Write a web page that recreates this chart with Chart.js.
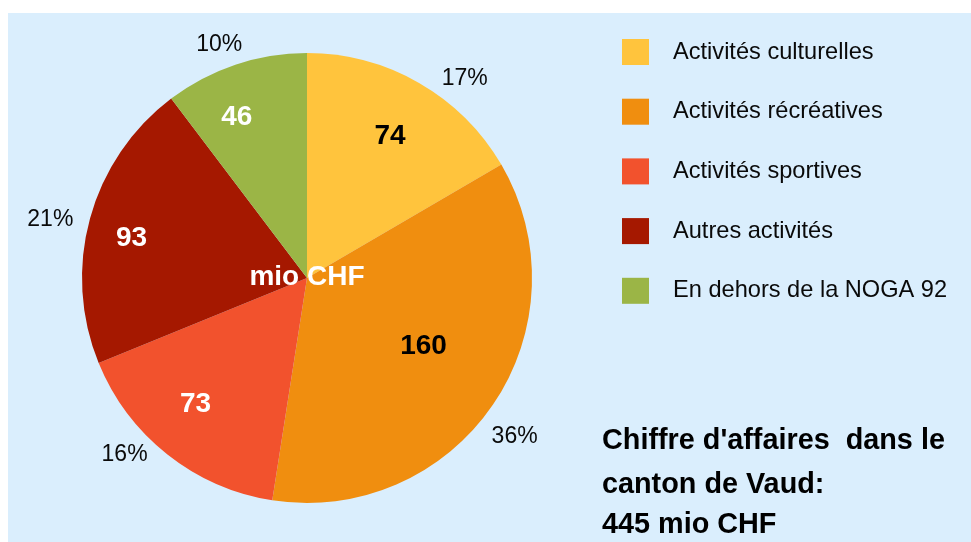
<!DOCTYPE html>
<html>
<head>
<meta charset="utf-8">
<script src="https://cdn.jsdelivr.net/npm/chart.js@4/dist/chart.umd.min.js"></script>
<style>
  html, body { margin: 0; padding: 0; background: #ffffff; }
  #wrap { position: relative; width: 971px; height: 542px; }
</style>
</head>
<body>
<div id="wrap"><canvas id="chart" width="971" height="542"></canvas></div>
<script>
// chart data
const categories = ['Activités culturelles', 'Activités récréatives', 'Activités sportives', 'Autres activités', 'En dehors de la NOGA 92'];
const revenue = [74, 160, 73, 93, 46];
const sliceColors = ['#FFC43D', '#F08E0F', '#F2522D', '#A51800', '#9BB546'];
const valueTextColors = ['#000000', '#000000', '#ffffff', '#ffffff', '#ffffff'];
const titleLines = ["Chiffre d'affaires  dans le", 'canton de Vaud:', '445 mio CHF'];
const centerText = 'mio CHF';

// label placement tweaks (fraction of radius, angle nudge in degrees)
const valueRadius = [0.73, 0.6, 0.75, 0.8, 0.78];
const valueNudge = [0.5, -4, 3, -2.5, -5];
const pctRadius = [1.13, 1.16, 1.13, 1.17, 1.11];
const pctNudge = [8.5, 3, 7.5, -2.5, -2];

const FONT = '"Liberation Sans", Arial, sans-serif';

const backgroundPlugin = {
  id: 'panelBackground',
  beforeDraw(chart) {
    const ctx = chart.ctx;
    ctx.save();
    ctx.fillStyle = '#ffffff';
    ctx.fillRect(0, 0, chart.width, chart.height);
    ctx.fillStyle = '#DAEEFD';
    ctx.fillRect(8, 13, chart.width - 8, chart.height - 13);
    ctx.restore();
  }
};

const labelPlugin = {
  id: 'sliceLabels',
  afterDatasetsDraw(chart) {
    const ctx = chart.ctx;
    const arcs = chart.getDatasetMeta(0).data;
    const data = chart.data.datasets[0].data;
    const total = data.reduce((a, b) => a + b, 0);
    ctx.save();
    ctx.textAlign = 'center';
    ctx.textBaseline = 'middle';
    arcs.forEach((arc, i) => {
      const p = arc.getProps(['x', 'y', 'startAngle', 'endAngle', 'outerRadius']);
      const mid = (p.startAngle + p.endAngle) / 2;
      // value inside the slice
      let a = mid + valueNudge[i] * Math.PI / 180;
      let r = p.outerRadius * valueRadius[i];
      ctx.font = 'bold 28px ' + FONT;
      ctx.fillStyle = valueTextColors[i];
      ctx.fillText(String(data[i]), p.x + Math.cos(a) * r, p.y + Math.sin(a) * r);
      // percentage outside
      a = mid + pctNudge[i] * Math.PI / 180;
      r = p.outerRadius * pctRadius[i];
      ctx.font = '23px ' + FONT;
      ctx.fillStyle = '#0a0a0a';
      ctx.fillText(Math.round(data[i] / total * 100) + '%', p.x + Math.cos(a) * r, p.y + Math.sin(a) * r);
    });
    // centre caption
    const c = arcs[0];
    ctx.font = 'bold 28px ' + FONT;
    ctx.fillStyle = '#ffffff';
    ctx.fillText(centerText, c.x, c.y - 1);
    ctx.restore();
  }
};

const legendPlugin = {
  id: 'sideLegend',
  afterDraw(chart) {
    const ctx = chart.ctx;
    ctx.save();
    ctx.textBaseline = 'middle';
    ctx.textAlign = 'left';
    ctx.font = '23.6px ' + FONT;
    chart.data.labels.forEach((label, i) => {
      const cy = 52 + i * 59.7;
      ctx.fillStyle = chart.data.datasets[0].backgroundColor[i];
      ctx.fillRect(622, cy - 13, 27, 26);
      ctx.fillStyle = '#0a0a0a';
      ctx.fillText(label, 673, cy);
    });
    // title block
    ctx.textBaseline = 'alphabetic';
    ctx.font = 'bold 28.8px ' + FONT;
    ctx.fillStyle = '#000000';
    const baselines = [449, 493, 533];
    titleLines.forEach((line, i) => ctx.fillText(line, 602, baselines[i]));
    ctx.restore();
  }
};

new Chart(document.getElementById('chart'), {
  type: 'pie',
  data: {
    labels: categories,
    datasets: [{
      data: revenue,
      backgroundColor: sliceColors,
      borderWidth: 0
    }]
  },
  options: {
    responsive: false,
    animation: false,
    layout: { padding: { left: 82, top: 53, right: 439, bottom: 39 } },
    plugins: {
      legend: { display: false },
      tooltip: { enabled: false },
      title: { display: false }
    }
  },
  plugins: [backgroundPlugin, labelPlugin, legendPlugin]
});
</script>
</body>
</html>
